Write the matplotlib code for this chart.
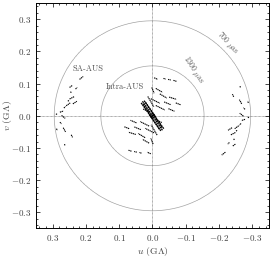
import matplotlib
matplotlib.use("Agg")
import matplotlib.pyplot as plt
import numpy as np

plt.rcParams['font.family'] = 'serif'
plt.rcParams['font.serif'] = ['cmr10', 'DejaVu Serif']
plt.rcParams['mathtext.fontset'] = 'cm'
plt.rcParams['axes.formatter.use_mathtext'] = True

# uv tracks (G lambda): start and end of each short track, conjugates are mirrored
sa_u0 = [0.219, 0.249, 0.246, 0.249, 0.259, 0.266, 0.278, 0.290, 0.239, 0.254,
         0.273, 0.288, 0.268, 0.244, 0.264, 0.278, 0.231]
sa_v0 = [0.113, 0.088, 0.075, 0.052, 0.031, 0.024, 0.011, 0.006, 0.037, 0.045,
         0.001, -0.040, -0.037, -0.059, -0.088, -0.020, 0.083]
sa_u1 = [0.208, 0.241, 0.243, 0.234, 0.247, 0.261, 0.267, 0.286, 0.227, 0.251,
         0.262, 0.286, 0.261, 0.240, 0.263, 0.273, 0.226]
sa_v1 = [0.122, 0.094, 0.070, 0.060, 0.040, 0.029, 0.015, 0.004, 0.045, 0.048,
         -0.008, -0.046, -0.050, -0.067, -0.092, -0.025, 0.088]

intra_u0 = [-0.005, -0.033, -0.047, -0.063, -0.010, -0.022, -0.050, 0.005, -0.010,
            -0.035, 0.002, 0.028, -0.048, 0.014, -0.070]
intra_v0 = [0.118, 0.116, 0.113, 0.110, 0.085, 0.068, 0.058, 0.053, 0.032,
            0.043, 0.088, 0.021, 0.022, 0.060, 0.040]
intra_u1 = [-0.016, -0.040, -0.055, -0.072, -0.030, -0.043, -0.072, -0.022, -0.037,
            -0.056, -0.005, 0.010, -0.066, -0.004, -0.085]
intra_v1 = [0.113, 0.114, 0.111, 0.107, 0.073, 0.055, 0.051, 0.039, 0.018,
            0.034, 0.070, 0.012, 0.014, 0.028, 0.034]

# dense short-baseline band through the origin
band_u0 = [0.030, 0.025, 0.034, 0.021, 0.029]
band_v0 = [0.045, 0.047, 0.040, 0.042, 0.037]
band_u1 = [-0.003, -0.007, 0.001, -0.010, -0.002]
band_v1 = [-0.005, -0.002, -0.008, -0.004, -0.010]

radii = [0.295, 0.155]
ring_labels = [r'700 $\mu$as', r'1300 $\mu$as']

fig = plt.figure(figsize=(2.72, 2.57), dpi=100)
ax = fig.add_axes([0.132, 0.111, 0.857, 0.877])

gray = '#777777'
ax.axhline(0, color=gray, lw=0.6, ls=(0, (0.8, 0.8)), zorder=1)
ax.axvline(0, color=gray, lw=0.6, ls=(0, (0.8, 0.8)), zorder=1)

t = np.linspace(0, 2 * np.pi, 400)
for r in radii:
    ax.plot(r * np.cos(t), r * np.sin(t), color=gray, lw=0.5,
            ls=(0, (1, 0.5)), zorder=1)

trk = dict(color='k', lw=0.8, ls=(0, (1.2, 0.5)), zorder=3)
for u0, v0, u1, v1 in [(sa_u0, sa_v0, sa_u1, sa_v1),
                       (intra_u0, intra_v0, intra_u1, intra_v1)]:
    for a, b, c, d in zip(u0, v0, u1, v1):
        ax.plot([a, c], [b, d], **trk)
        ax.plot([-a, -c], [-b, -d], **trk)

for a, b, c, d in zip(band_u0, band_v0, band_u1, band_v1):
    ax.plot([a, c], [b, d], color='k', lw=0.9, ls=(0, (1.5, 0.4)), zorder=3)
    ax.plot([-a, -c], [-b, -d], color='k', lw=0.9, ls=(0, (1.5, 0.4)), zorder=3)

fs = 6.5
tc = '#555555'
ax.text(0.194, 0.147, 'SA-AUS', fontsize=6, color=tc, ha='center', va='center')
ax.text(0.082, 0.089, 'Intra-AUS', fontsize=6, color=tc, ha='center', va='center')
ax.text(-0.226, 0.227, ring_labels[0], fontsize=5.5, color=tc,
        ha='center', va='center', rotation=-47)
ax.text(-0.123, 0.144, ring_labels[1], fontsize=5.5, color=tc,
        ha='center', va='center', rotation=-57)

ax.set_xlim(0.35, -0.35)
ax.set_ylim(-0.35, 0.35)
ax.set_xticks([0.3, 0.2, 0.1, 0.0, -0.1, -0.2, -0.3])
ax.set_yticks([-0.3, -0.2, -0.1, 0.0, 0.1, 0.2, 0.3])
ax.set_xticks(np.arange(-0.34, 0.35, 0.02), minor=True)
ax.set_yticks(np.arange(-0.34, 0.35, 0.02), minor=True)
ax.tick_params(which='both', direction='in', top=True, right=True,
               labelsize=fs, labelcolor='#444444', width=0.5)
ax.tick_params(which='major', length=3)
ax.tick_params(which='minor', length=1.5)
for s in ax.spines.values():
    s.set_linewidth(0.7)

ax.set_xlabel(r'$u$ (G$\Lambda$)', fontsize=fs + 0.5, color='#444444', labelpad=1)
ax.set_ylabel(r'$v$ (G$\Lambda$)', fontsize=fs + 0.5, color='#444444')
ax.yaxis.set_label_coords(-0.095, 0.5)

fig.savefig('out.png', dpi=100)
